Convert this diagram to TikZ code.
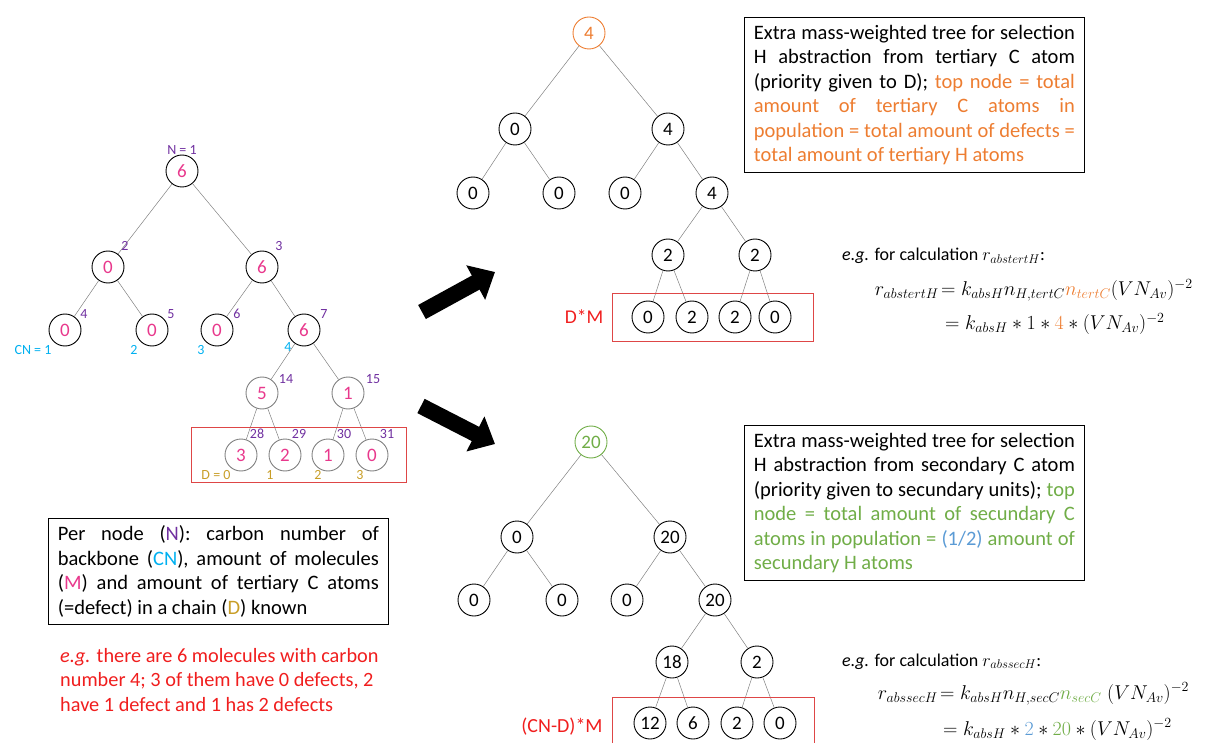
\RequirePackage{fix-cm}
\documentclass[tikz,border=0pt]{standalone}
\usepackage{fontspec}
\setmainfont{Carlito}
\usetikzlibrary{arrows.meta}
\definecolor{ncol}{RGB}{112,48,160}
\definecolor{mcol}{RGB}{232,56,140}
\definecolor{cncol}{RGB}{0,176,240}
\definecolor{dcol}{RGB}{200,158,40}
\definecolor{orng}{RGB}{237,125,49}
\definecolor{grn}{RGB}{112,173,71}
\definecolor{blu}{RGB}{91,155,213}
\definecolor{boxred}{RGB}{222,70,70}
\definecolor{txtred}{RGB}{240,30,30}
% font spaces back, and one justified line of a text box
\newcommand{\natsp}{\spaceskip=0pt\xspaceskip=0pt\relax}
\newcommand{\jline}[1]{\makebox[321pt][s]{#1}}
\begin{document}
\begin{tikzpicture}[x=1pt, y=-1pt,
  nd/.style={circle, draw, line width=0.9pt, minimum size=32pt, inner sep=0pt, font=\fontsize{19}{19}\selectfont},
  mnd/.style={nd, text=mcol},
  gnd/.style={mnd, draw=gray},
  lbl/.style={inner sep=0pt, font=\fontsize{14}{14}\selectfont},
  edge/.style={gray, line width=0.5pt},
  redbox/.style={boxred, line width=0.8pt},
  txtbox/.style={draw, line width=0.8pt, anchor=north west, text width=321pt, align=left,
    inner xsep=9.5pt, inner ysep=7.5pt, font=\fontsize{20.5}{24.5}\selectfont},
  bigarrow/.style={line width=16pt, -{Triangle[length=22pt, width=38pt]}}]
\useasboundingbox (0,0) rectangle (1210,743);

% left tree: N, CN, M, D
\node[mnd] (L1) at (182,171){6};
\node[mnd] (L2) at (108,267){0};
\node[mnd] (L3) at (262,267){6};
\node[mnd] (L4) at (65,330){0};
\node[mnd] (L5) at (152,330){0};
\node[mnd] (L6) at (217,330){0};
\node[mnd] (L7) at (304,330){6};
\node[gnd] (L14) at (262,393){5};
\node[gnd] (L15) at (348,393){1};
\node[gnd] (L28) at (241,455){3};
\node[gnd] (L29) at (285,455){2};
\node[gnd] (L30) at (328,455){1};
\node[gnd] (L31) at (372,455){0};
\draw[edge] (L1)--(L2)--(L4);
\draw[edge] (L2)--(L5);
\draw[edge] (L1)--(L3)--(L6);
\draw[edge] (L3)--(L7)--(L14)--(L28);
\draw[edge] (L14)--(L29);
\draw[edge] (L7)--(L15)--(L30);
\draw[edge] (L15)--(L31);

\node[lbl, text=ncol] (n1) at (182,150){N = 1};
\node[lbl, text=ncol] (n2) at (125,246){2};
\node[lbl, text=ncol] (n3) at (279,246){3};
\node[lbl, text=ncol] (n4) at (84,314){4};
\node[lbl, text=ncol] (n5) at (171,314){5};
\node[lbl, text=ncol] (n6) at (237,314){6};
\node[lbl, text=ncol] (n7) at (324,314){7};
\node[lbl, text=ncol] (n14) at (286,379){14};
\node[lbl, text=ncol] (n15) at (373,379){15};
\node[lbl, text=ncol] (n28) at (257,434){28};
\node[lbl, text=ncol] (n29) at (299,434){29};
\node[lbl, text=ncol] (n30) at (344,434){30};
\node[lbl, text=ncol] (n31) at (387,434){31};
\node[lbl, text=cncol] (c1) at (33,350){CN = 1};
\node[lbl, text=cncol] (c2) at (134,350){2};
\node[lbl, text=cncol] (c3) at (201,350){3};
\node[lbl, text=cncol] (c4) at (288,347){4};
\node[lbl, text=dcol] (d0) at (216,475){D = 0};
\node[lbl, text=dcol] (d1) at (270,475){1};
\node[lbl, text=dcol] (d2) at (318,475){2};
\node[lbl, text=dcol] (d3) at (360,475){3};
\draw[redbox] (191,427) rectangle (406,482);

\node[txtbox] (info) at (48,518){\natsp\jline{Per node (\textcolor{ncol}{N}): carbon number of}\\
  \jline{backbone (\textcolor{cncol}{CN}), amount of molecules}\\
  \jline{(\textcolor{mcol}{M}) and amount of tertiary C atoms}\\
  (=defect) in a chain (\textcolor{dcol}{D}) known};
\node[anchor=north west, align=left, inner sep=0pt, text=txtred, font=\fontsize{20.3}{24.5}\selectfont]
  (eg) at (60,648){\natsp\textit{e.g.} there are 6 molecules with carbon\\
  number 4; 3 of them have 0 defects, 2\\
  have 1 defect and 1 has 2 defects};

% arrows
\coordinate (a1s) at (422,312);
\coordinate (a1e) at (495,272);
\coordinate (a2s) at (421,406);
\coordinate (a2e) at (495,444);
\draw[bigarrow] (a1s)--(a1e);
\draw[bigarrow] (a2s)--(a2e);

% tertiary tree: D*M
\node[nd, draw=orng, text=orng] (T1) at (589,33){4};
\node[nd] (T2) at (515,129){0};
\node[nd] (T3) at (668,129){4};
\node[nd] (T4) at (473,193){0};
\node[nd] (T5) at (559,193){0};
\node[nd] (T6) at (625,193){0};
\node[nd] (T7) at (712,193){4};
\node[nd] (T14) at (668,255){2};
\node[nd] (T15) at (755,255){2};
\node[nd] (T28) at (648,317){0};
\node[nd] (T29) at (692,317){2};
\node[nd] (T30) at (735,317){2};
\node[nd] (T31) at (775,317){0};
\draw[edge] (T1)--(T2)--(T4);
\draw[edge] (T2)--(T5);
\draw[edge] (T1)--(T3)--(T6);
\draw[edge] (T3)--(T7)--(T14)--(T28);
\draw[edge] (T14)--(T29);
\draw[edge] (T7)--(T15)--(T30);
\draw[edge] (T15)--(T31);
\draw[redbox] (612,293) rectangle (813,341);
\node[text=txtred, font=\fontsize{19.5}{19.5}\selectfont] (dm) at (584,317){D*M};

\node[txtbox] (tbox) at (744,17){\natsp\jline{Extra mass-weighted tree for selection}\\
  \jline{H abstraction from tertiary C atom}\\
  \jline{(priority given to D); \textcolor{orng}{top node = total}}\\
  \color{orng}\jline{amount of tertiary C atoms in}\\
  \jline{population = total amount of defects =}\\
  total amount of tertiary H atoms};

\node[anchor=base west, inner sep=0pt, font=\fontsize{18}{18}\selectfont] (teg) at (842,261)
  {\textit{e.g.} for calculation $r_{abstertH}$:};
\node[anchor=base east, inner sep=1pt, font=\fontsize{20}{20}\selectfont] (tl) at (940,296)
  {$r_{abstertH}$};
\node[anchor=base west, inner sep=1pt, font=\fontsize{20}{20}\selectfont] (tr1) at (940,296)
  {$=k_{absH}n_{H,tertC}\textcolor{orng}{n_{tertC}}(VN_{Av})^{-2}$};
\node[anchor=base west, inner sep=1pt, font=\fontsize{20}{20}\selectfont] (tr2) at (944,330)
  {$=k_{absH}*1*\textcolor{orng}{4}*(VN_{Av})^{-2}$};

% secondary tree: (CN-D)*M
\node[nd, draw=grn, text=grn] (S1) at (591,442){20};
\node[nd] (S2) at (517,537){0};
\node[nd] (S3) at (670,537){20};
\node[nd] (S4) at (474,600){0};
\node[nd] (S5) at (562,600){0};
\node[nd] (S6) at (627,600){0};
\node[nd] (S7) at (715,600){20};
\node[nd] (S14) at (672,662){18};
\node[nd] (S15) at (757,662){2};
\node[nd] (S28) at (650,723){12};
\node[nd] (S29) at (693,723){6};
\node[nd] (S30) at (737,723){2};
\node[nd] (S31) at (780,723){0};
\draw[edge] (S1)--(S2)--(S4);
\draw[edge] (S2)--(S5);
\draw[edge] (S1)--(S3)--(S6);
\draw[edge] (S3)--(S7)--(S14)--(S28);
\draw[edge] (S14)--(S29);
\draw[edge] (S7)--(S15)--(S30);
\draw[edge] (S15)--(S31);
\draw[redbox] (612,697) rectangle (814,760);
\node[text=txtred, font=\fontsize{20}{20}\selectfont] (cdm) at (562,727){(CN-D)*M};

\node[txtbox] (sbox) at (744,425){\natsp\jline{Extra mass-weighted tree for selection}\\
  \jline{H abstraction from secondary C atom}\\
  \jline{(priority given to secundary units); \textcolor{grn}{top}}\\
  \color{grn}\jline{node = total amount of secundary C}\\
  \jline{atoms in population = \textcolor{blu}{(1/2)} amount of}\\
  secundary H atoms};

\node[anchor=base west, inner sep=0pt, font=\fontsize{18}{18}\selectfont] (seg) at (842,666)
  {\textit{e.g.} for calculation $r_{abssecH}$:};
\node[anchor=base east, inner sep=1pt, font=\fontsize{20}{20}\selectfont] (sl) at (939,699)
  {$r_{abssecH}$};
\node[anchor=base west, inner sep=1pt, font=\fontsize{20}{20}\selectfont] (sr1) at (939,699)
  {$=k_{absH}n_{H,secC}\textcolor{grn}{n_{secC}}\;(VN_{Av})^{-2}$};
\node[anchor=base west, inner sep=1pt, font=\fontsize{20}{20}\selectfont] (sr2) at (942,735)
  {$=k_{absH}*\textcolor{blu}{2}*\textcolor{grn}{20}*(VN_{Av})^{-2}$};
\end{tikzpicture}
\end{document}
